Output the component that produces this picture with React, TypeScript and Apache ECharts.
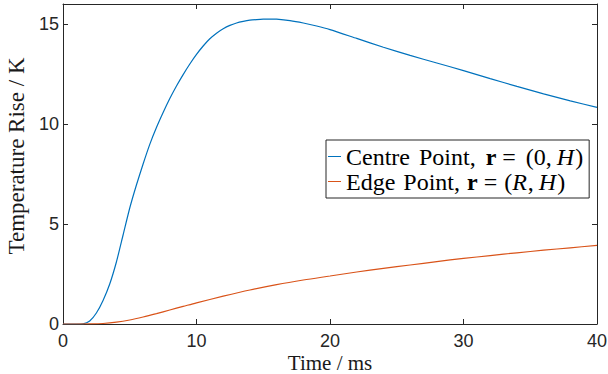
import React, { useEffect, useRef } from "react";
import * as echarts from "echarts";

const centreTime = [0, 0.5, 1, 1.5, 2, 2.5, 3, 3.5, 4, 4.5, 5, 5.5, 6, 6.5, 7, 7.5, 8, 8.5, 9, 9.5, 10, 10.5, 11, 11.5, 12, 12.5, 13, 13.5, 14, 14.5, 15, 15.5, 16, 17, 18, 19, 20, 22, 24, 26, 28, 30, 32, 34, 36, 38, 40];
const centreRise = [0, 0, 0, 0.01, 0.15, 0.55, 1.18, 2.0, 3.1, 4.45, 5.8, 6.95, 8.0, 8.98, 9.82, 10.57, 11.27, 11.9, 12.47, 13.0, 13.48, 13.9, 14.26, 14.54, 14.76, 14.93, 15.05, 15.13, 15.19, 15.22, 15.24, 15.245, 15.24, 15.17, 15.05, 14.9, 14.72, 14.28, 13.84, 13.43, 13.05, 12.67, 12.27, 11.88, 11.51, 11.16, 10.83];
const edgeTime = [0, 1, 2, 3, 4, 5, 6, 7, 8, 9, 10, 12, 14, 16, 18, 20, 22, 24, 26, 28, 30, 32, 34, 36, 38, 40];
const edgeRise = [0, 0, 0.004, 0.025, 0.09, 0.2, 0.35, 0.52, 0.7, 0.88, 1.06, 1.39, 1.7, 1.97, 2.2, 2.4, 2.6, 2.78, 2.95, 3.12, 3.28, 3.42, 3.56, 3.69, 3.81, 3.93];
const seriesNames = ["Centre Point", "Edge Point"];
const xTicks = { min: 0, max: 40, interval: 10 };
const yTicks = { min: 0, max: 16, interval: 5 };

const AXIS = "#262626";
const SERIF = "'Liberation Serif', 'Times New Roman', serif";
const SANS = "'Liberation Sans', Arial, Helvetica, sans-serif";
const LEG_FS = 24;

export default function App() {
  const ref = useRef<HTMLDivElement>(null);
  useEffect(() => {
    if (!ref.current) return;
    const chart = echarts.init(ref.current, undefined, { renderer: "svg" });
    const axisCommon = {
      axisLine: { show: true, onZero: false, lineStyle: { color: AXIS, width: 1 } },
      axisTick: { show: true, inside: true, length: 5, lineStyle: { color: AXIS, width: 1 } },
      splitLine: { show: false },
    };
    const label = { color: AXIS, fontSize: 18, fontFamily: SANS };
    const nameStyle = { color: "#1a1a1a", fontSize: 22, fontFamily: SERIF };
    const tok = (pr: number, extra: Record<string, unknown> = {}) => ({
      fontFamily: SERIF, fontSize: LEG_FS, color: "#000", lineHeight: 25, padding: [0, pr, 0, 0], ...extra,
    });
    chart.setOption({
      animation: false,
      backgroundColor: "#ffffff",
      grid: { left: 63, right: 11, top: 4, bottom: 50, containLabel: false, outerBoundsMode: "none" },
      xAxis: [
        {
          type: "value", ...xTicks, position: "bottom", ...axisCommon,
          axisLabel: { ...label, margin: 8 },
          name: "Time / ms", nameLocation: "middle", nameGap: 29, nameMoveOverlap: false,
          nameTextStyle: { ...nameStyle, fontSize: 21, lineHeight: 20 },
        },
        {
          type: "value", ...xTicks, position: "top", ...axisCommon,
          axisLabel: { show: false },
        },
      ],
      yAxis: [
        {
          type: "value", ...yTicks, position: "left", ...axisCommon,
          axisLabel: { ...label, margin: 4, showMaxLabel: false },
          name: "Temperature Rise / K", nameLocation: "middle", nameGap: 26,
          nameTextStyle: { ...nameStyle, fontSize: 23, padding: [0, 0, 0, 16] },
        },
        {
          type: "value", ...yTicks, position: "right", ...axisCommon,
          axisLabel: { show: false },
        },
      ],
      legend: {
        orient: "vertical",
        left: 326,
        top: 140,
        data: seriesNames,
        icon: "rect",
        itemWidth: 13,
        itemHeight: 1,
        itemGap: 0,
        padding: [4, 6, 4, 2],
        backgroundColor: "#ffffff",
        borderColor: AXIS,
        borderWidth: 1,
        formatter: (name: string) => {
          if (name === seriesNames[0]) {
            return `{a|Centre}{p1|Point,}{b|r}{eq1|=}{c|(0,}{i|H}{n|)}`;
          }
          return `{e|Edge}{p2|Point,}{b|r}{eq2|=}{n|(}{i|R}{c|,}{i|H}{n|)}`;
        },
        textStyle: {
          fontFamily: SERIF,
          fontSize: LEG_FS,
          color: "#000000",
          lineHeight: 25,
          rich: {
            a: tok(9),
            e: tok(8),
            p1: tok(10),
            p2: tok(7),
            b: tok(6, { fontWeight: "bold" }),
            eq1: tok(10),
            eq2: tok(7),
            c: tok(5),
            i: tok(1, { fontStyle: "italic" }),
            n: tok(0),
          },
        },
      },
      series: [
        {
          name: seriesNames[0],
          type: "line",
          data: centreTime.map((t, k) => [t, centreRise[k]]),
          showSymbol: false,
          smooth: 0.2,
          lineStyle: { color: "#0072BD", width: 1.2 },
          itemStyle: { color: "#0072BD" },
        },
        {
          name: seriesNames[1],
          type: "line",
          data: edgeTime.map((t, k) => [t, edgeRise[k]]),
          showSymbol: false,
          smooth: 0.3,
          lineStyle: { color: "#D95319", width: 1.2 },
          itemStyle: { color: "#D95319" },
        },
      ],
    });
    return () => chart.dispose();
  }, []);
  return <div ref={ref} style={{ width: 608, height: 374, position: "absolute", left: 0, top: 0 }} />;
}
